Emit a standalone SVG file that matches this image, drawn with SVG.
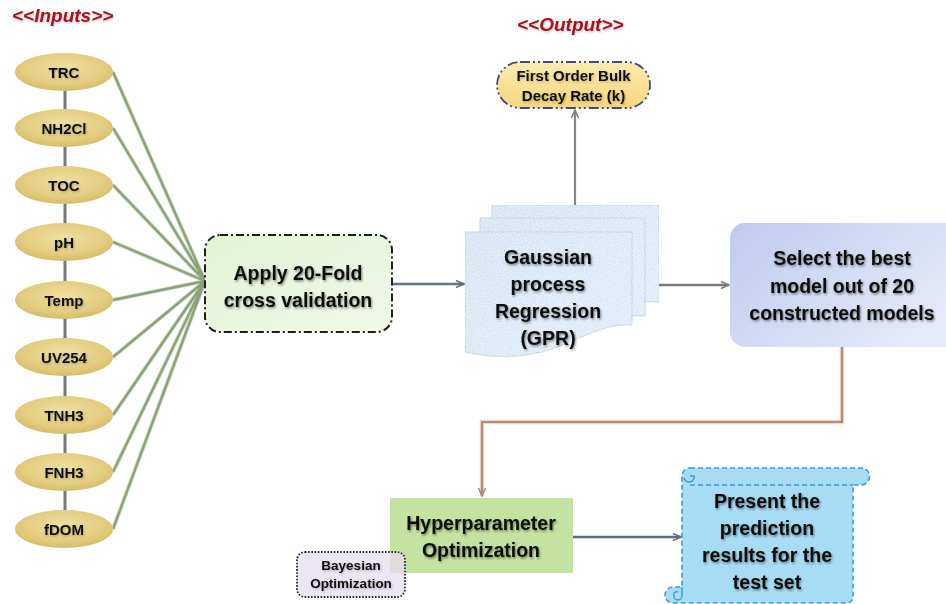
<svg xmlns="http://www.w3.org/2000/svg" width="946" height="604" viewBox="0 0 946 604">
  <defs>
    <style>
      .lbl { font-family: "Liberation Sans", Arial, sans-serif; font-weight: bold; fill: #111111; text-anchor: middle; }
      .big { font-size: 19.5px; }
      .mid { font-size: 15px; }
      .sml { font-size: 13.5px; }
      .head { font-family: "Liberation Sans", Arial, sans-serif; font-weight: bold; font-style: italic; font-size: 19px; fill: #a3121c; }
      .input { fill: url(#gold); }
      .spine { stroke: #77777d; stroke-width: 3; }
      .feed { stroke: #8ba17c; stroke-width: 2.4; fill: none; }
      .feed-edge { stroke: #d3e0c6; stroke-width: 4.2; fill: none; }
      .doc { fill: url(#paper); stroke: #b9cde2; stroke-width: 1; }
    </style>
    <radialGradient id="gold" cx="0.5" cy="0.4" r="0.6">
      <stop offset="0" stop-color="#efe0a2"/>
      <stop offset="0.7" stop-color="#e3cc7f"/>
      <stop offset="1" stop-color="#d5bc68"/>
    </radialGradient>
    <linearGradient id="mint" x1="0" y1="0" x2="1" y2="1">
      <stop offset="0" stop-color="#e2f2d2"/>
      <stop offset="1" stop-color="#f1f9ea"/>
    </linearGradient>
    <linearGradient id="butter" x1="0" y1="0" x2="0" y2="1">
      <stop offset="0" stop-color="#fcebb0"/>
      <stop offset="1" stop-color="#f6d67a"/>
    </linearGradient>
    <linearGradient id="lavender" x1="0" y1="0" x2="1" y2="0.6">
      <stop offset="0" stop-color="#bfcaef"/>
      <stop offset="0.6" stop-color="#d6ddf5"/>
      <stop offset="1" stop-color="#e6eaf9"/>
    </linearGradient>
    <linearGradient id="paper" x1="0" y1="0" x2="1" y2="1">
      <stop offset="0" stop-color="#cfe0f2"/>
      <stop offset="1" stop-color="#deeaf7"/>
    </linearGradient>
    <filter id="grain" x="0" y="0" width="1" height="1">
      <feTurbulence type="fractalNoise" baseFrequency="0.9" numOctaves="2" seed="3" result="n"/>
      <feColorMatrix in="n" type="matrix" values="0 0 0 0 1  0 0 0 0 1  0 0 0 0 1  0 0 0 1.3 -0.45" result="w"/>
      <feComposite in="w" in2="SourceGraphic" operator="in" result="wm"/>
      <feMerge><feMergeNode in="SourceGraphic"/><feMergeNode in="wm"/></feMerge>
    </filter>
    <filter id="shade" x="-10%" y="-30%" width="130%" height="170%">
      <feDropShadow dx="1" dy="1.5" stdDeviation="1.2" flood-color="#000" flood-opacity="0.45"/>
    </filter>
    <filter id="soft" x="-10%" y="-30%" width="130%" height="170%">
      <feDropShadow dx="0.8" dy="1.2" stdDeviation="1" flood-color="#000" flood-opacity="0.25"/>
    </filter>
    <marker id="tipGray" markerWidth="10" markerHeight="8" refX="9" refY="4" orient="auto" markerUnits="userSpaceOnUse">
      <path d="M1,0.5 L9,4 L1,7.5" fill="none" stroke="#7d7d82" stroke-width="1.5"/>
    </marker>
    <marker id="tipSlate" markerWidth="10" markerHeight="8" refX="9" refY="4" orient="auto" markerUnits="userSpaceOnUse">
      <path d="M1,0.5 L9,4 L1,7.5" fill="none" stroke="#5f6f8c" stroke-width="1.5"/>
    </marker>
    <marker id="tipBrown" markerWidth="10" markerHeight="8" refX="9" refY="4" orient="auto" markerUnits="userSpaceOnUse">
      <path d="M1,0.5 L9,4 L1,7.5" fill="none" stroke="#b08a78" stroke-width="1.5"/>
    </marker>
  </defs>

  <rect width="946" height="604" fill="#ffffff"/>

  <!-- section headings -->
  <text class="head" x="12" y="22" filter="url(#soft)">&lt;&lt;Inputs&gt;&gt;</text>
  <text class="head" x="517" y="31" font-size="19.5" filter="url(#soft)">&lt;&lt;Output&gt;&gt;</text>

  <!-- connectors -->
  <g id="connectors">
    <!-- spine joining the input variables -->
    <line class="spine" x1="65" y1="88" x2="65" y2="110"/>
    <line class="spine" x1="65" y1="146" x2="65" y2="167"/>
    <line class="spine" x1="65" y1="203" x2="65" y2="224"/>
    <line class="spine" x1="65" y1="260" x2="65" y2="282"/>
    <line class="spine" x1="65" y1="318" x2="65" y2="339"/>
    <line class="spine" x1="65" y1="375" x2="65" y2="397"/>
    <line class="spine" x1="65" y1="433" x2="65" y2="454"/>
    <line class="spine" x1="65" y1="490" x2="65" y2="511"/>

    <!-- each input feeds the cross-validation step -->
    <g>
      <path class="feed-edge" d="M113,72 L205,281 M113,128 L205,281 M113,185 L205,281 M113,242 L205,281 M113,300 L205,281 M113,357 L205,281 M113,415 L205,281 M113,472 L205,281 M113,529 L205,281"/>
      <path class="feed" d="M113,72 L205,281 M113,128 L205,281 M113,185 L205,281 M113,242 L205,281 M113,300 L205,281 M113,357 L205,281 M113,415 L205,281 M113,472 L205,281 M113,529 L205,281"/>
    </g>

    <line x1="392" y1="284" x2="464" y2="284" stroke="#62728e" stroke-width="2.4" marker-end="url(#tipSlate)"/>
    <line x1="575" y1="205" x2="575" y2="110" stroke="#86868a" stroke-width="2.2" marker-end="url(#tipGray)"/>
    <line x1="659" y1="285" x2="729" y2="285" stroke="#7a7a7e" stroke-width="2.6" marker-end="url(#tipGray)"/>
    <path d="M842,347 V422 H482 V496" fill="none" stroke="#ead8cf" stroke-width="4.5"/>
    <path d="M842,347 V422 H482 V496" fill="none" stroke="#b38d7b" stroke-width="2.2" marker-end="url(#tipBrown)"/>
    <line x1="573" y1="537" x2="681" y2="537" stroke="#5a6a8a" stroke-width="2.6" marker-end="url(#tipSlate)"/>
  </g>

  <!-- input variables -->
  <g id="in-trc"><ellipse class="input" cx="64" cy="72" rx="49" ry="19"/><text class="lbl mid" x="64" y="77.5" filter="url(#soft)">TRC</text></g>
  <g id="in-nh2cl"><ellipse class="input" cx="64" cy="128" rx="49" ry="19"/><text class="lbl mid" x="64" y="133.5" filter="url(#soft)">NH2Cl</text></g>
  <g id="in-toc"><ellipse class="input" cx="64" cy="185" rx="49" ry="19"/><text class="lbl mid" x="64" y="190.5" filter="url(#soft)">TOC</text></g>
  <g id="in-ph"><ellipse class="input" cx="64" cy="242" rx="49" ry="19"/><text class="lbl mid" x="64" y="247.5" filter="url(#soft)">pH</text></g>
  <g id="in-temp"><ellipse class="input" cx="64" cy="300" rx="49" ry="19"/><text class="lbl mid" x="64" y="305.5" filter="url(#soft)">Temp</text></g>
  <g id="in-uv254"><ellipse class="input" cx="64" cy="357" rx="49" ry="19"/><text class="lbl mid" x="64" y="362.5" filter="url(#soft)">UV254</text></g>
  <g id="in-tnh3"><ellipse class="input" cx="64" cy="415" rx="49" ry="19"/><text class="lbl mid" x="64" y="420.5" filter="url(#soft)">TNH3</text></g>
  <g id="in-fnh3"><ellipse class="input" cx="64" cy="472" rx="49" ry="19"/><text class="lbl mid" x="64" y="477.5" filter="url(#soft)">FNH3</text></g>
  <g id="in-fdom"><ellipse class="input" cx="64" cy="529" rx="49" ry="19"/><text class="lbl mid" x="64" y="534.5" filter="url(#soft)">fDOM</text></g>

  <!-- cross validation -->
  <g id="cross-validation">
    <rect x="205" y="235" width="187" height="97" rx="15" fill="url(#mint)" stroke="#1e1e1e" stroke-width="2" stroke-dasharray="8 3 2 3"/>
    <text class="lbl big" x="298" y="280" filter="url(#shade)">Apply 20-Fold</text>
    <text class="lbl big" x="298" y="307" filter="url(#shade)">cross validation</text>
  </g>

  <!-- output -->
  <g id="decay-rate">
    <rect x="497" y="62" width="153" height="46" rx="23" fill="url(#butter)" stroke="#3e4c7c" stroke-width="1.8" stroke-dasharray="10 3 2 3 2 3"/>
    <text class="lbl mid" x="573.5" y="81" filter="url(#soft)">First Order Bulk</text>
    <text class="lbl mid" x="573.5" y="101" filter="url(#soft)">Decay Rate (k)</text>
  </g>

  <!-- stacked model documents -->
  <g id="gpr">
    <g filter="url(#grain)">
      <path class="doc" d="M492,205 H659 V302 C640,300 625,306 610,313 C590,320 560,322 540,318 H492 Z"/>
      <path class="doc" d="M480,218 H645 V316 C626,314 611,320 596,327 C576,334 546,336 526,332 H480 Z"/>
      <path class="doc" d="M465,232 H632 V325 C612,323 590,333 565,344 C535,357 500,360 465,352 Z"/>
    </g>
    <text class="lbl big" x="548" y="264" filter="url(#shade)">Gaussian</text>
    <text class="lbl big" x="548" y="291" filter="url(#shade)">process</text>
    <text class="lbl big" x="548" y="318" filter="url(#shade)">Regression</text>
    <text class="lbl big" x="548" y="345" filter="url(#shade)">(GPR)</text>
  </g>

  <!-- model selection -->
  <g id="select-best">
    <rect x="730" y="223" width="232" height="124" rx="15" fill="url(#lavender)"/>
    <text class="lbl big" x="842" y="265" filter="url(#shade)">Select the best</text>
    <text class="lbl big" x="842" y="293" filter="url(#shade)">model out of 20</text>
    <text class="lbl big" x="842" y="320" filter="url(#shade)">constructed models</text>
  </g>

  <!-- tuning -->
  <g id="hyperparameter">
    <rect x="390" y="498" width="183" height="75" fill="#c4e3a0"/>
    <text class="lbl big" x="481" y="530" filter="url(#shade)">Hyperparameter</text>
    <text class="lbl big" x="481" y="557" filter="url(#shade)">Optimization</text>
  </g>

  <g id="bayesian">
    <rect x="297" y="552" width="108" height="45" rx="8" fill="#e6dcf0" fill-opacity="0.75" stroke="#2a2a2a" stroke-width="1.8" stroke-dasharray="1.6 1.6"/>
    <text class="lbl sml" x="351" y="570" filter="url(#soft)">Bayesian</text>
    <text class="lbl sml" x="351" y="588" filter="url(#soft)">Optimization</text>
  </g>

  <!-- results scroll -->
  <g id="results">
    <path d="M690,468 H861 A8.5,8.5 0 0 1 861,485 H853 V597 A6,6 0 0 1 847,603 H673 A8,8 0 0 1 673,587 H682 V476 A8,8 0 0 1 690,468 Z" fill="#a7dcf4" stroke="#3a9fd6" stroke-width="1.6" stroke-dasharray="5 3"/>
    <path d="M690,485 H853" fill="none" stroke="#3a9fd6" stroke-width="1.6" stroke-dasharray="5 3"/>
    <path d="M684,478 A5,5 0 1 0 694,476 L690,476" fill="none" stroke="#3a9fd6" stroke-width="1.5"/>
    <path d="M682,587 V596 A4,4 0 0 1 674,596 A3,3 0 0 1 678,592" fill="none" stroke="#3a9fd6" stroke-width="1.5"/>
    <text class="lbl big" x="767" y="508" filter="url(#shade)">Present the</text>
    <text class="lbl big" x="767" y="535" filter="url(#shade)">prediction</text>
    <text class="lbl big" x="767" y="562" filter="url(#shade)">results for the</text>
    <text class="lbl big" x="767" y="589" filter="url(#shade)">test set</text>
  </g>
</svg>
